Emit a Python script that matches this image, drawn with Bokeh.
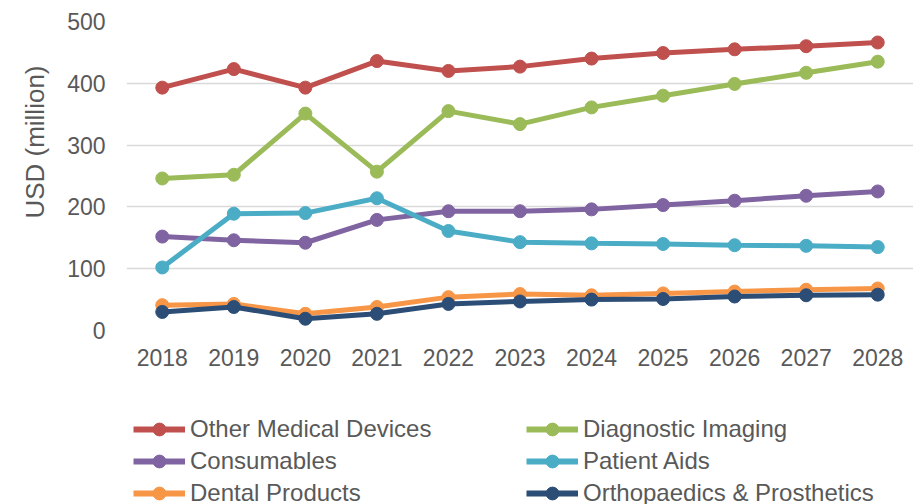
from bokeh.plotting import figure
from bokeh.models import FixedTicker, Legend, LegendItem, Title
from bokeh.layouts import column
from bokeh.embed import file_html
from bokeh.resources import INLINE

years = [2018, 2019, 2020, 2021, 2022, 2023, 2024, 2025, 2026, 2027, 2028]
other_medical = [393, 423, 393, 436, 420, 427, 440, 449, 455, 460, 466]
diagnostic_imaging = [246, 252, 351, 257, 355, 334, 361, 380, 399, 417, 435]
consumables = [152, 146, 142, 179, 193, 193, 196, 203, 210, 218, 225]
patient_aids = [102, 189, 190, 214, 161, 143, 141, 140, 138, 137, 135]
dental_products = [41, 43, 27, 38, 54, 59, 57, 60, 63, 66, 68]
orthopaedics = [30, 38, 19, 27, 43, 47, 50, 51, 55, 57, 58]
y_ticks = [0, 100, 200, 300, 400, 500]

series = [
    ("Other Medical Devices", other_medical, "#c0504d"),
    ("Diagnostic Imaging", diagnostic_imaging, "#9bbb59"),
    ("Consumables", consumables, "#8064a2"),
    ("Patient Aids", patient_aids, "#4bacc6"),
    ("Dental Products", dental_products, "#f79646"),
    ("Orthopaedics & Prosthetics", orthopaedics, "#2c4d75"),
]

FONT = "Liberation Sans"
TXT = "#595959"

p = figure(width=913, height=380, output_backend="svg", toolbar_location=None,
           x_range=(2017.5, 2028.5), y_range=(0, 500),
           min_border_left=126, min_border_right=0, min_border_top=21,
           min_border_bottom=50)
p.outline_line_color = None
p.background_fill_color = "white"
p.border_fill_color = "white"

p.xgrid.grid_line_color = None
p.ygrid.grid_line_color = "#d9d9d9"
p.ygrid.grid_line_width = 1.5

p.xaxis.ticker = FixedTicker(ticks=years)
p.yaxis.ticker = FixedTicker(ticks=y_ticks)
for ax in (p.xaxis, p.yaxis):
    ax.axis_line_color = None
    ax.major_tick_line_color = None
    ax.minor_tick_line_color = None
    ax.major_tick_out = 0
    ax.major_tick_in = 0
    ax.major_label_text_font = FONT
    ax.major_label_text_font_size = "23px"
    ax.major_label_text_color = TXT
p.xaxis.major_label_standoff = 18
p.yaxis.major_label_standoff = 21

ytitle = Title(text="USD (million)", align="right", offset=44, standoff=29,
               text_font=FONT, text_font_size="26px", text_font_style="normal",
               text_color=TXT)
p.add_layout(ytitle, "left")

for name, vals, color in series:
    p.line(years, vals, line_color=color, line_width=5)
    p.scatter(years, vals, size=13, fill_color=color, line_color=color)

# legend panel below the chart
lg = figure(width=913, height=124, output_backend="svg", toolbar_location=None,
            x_range=(0, 1), y_range=(0, 1), x_axis_location=None,
            y_axis_location=None, min_border=0)
lg.outline_line_color = None
lg.xgrid.visible = False
lg.ygrid.visible = False
items = []
for name, vals, color in series:
    l = lg.line(years, vals, line_color=color, line_width=6)
    s = lg.scatter(years, vals, size=13, fill_color=color, line_color=color)
    items.append(LegendItem(label=name, renderers=[l, s]))

legend = Legend(items=items, location=(7, -5), orientation="horizontal", ncols=2,
                glyph_width=52, glyph_height=32, label_height=32, label_width=336,
                label_standoff=5, spacing=0, padding=0, margin=0,
                label_text_font=FONT, label_text_font_size="24px",
                label_text_color=TXT, background_fill_alpha=0,
                border_line_alpha=0)
lg.add_layout(legend, "center")

layout = column(p, lg, spacing=0)
open("out.html", "w").write(file_html(layout, INLINE))
